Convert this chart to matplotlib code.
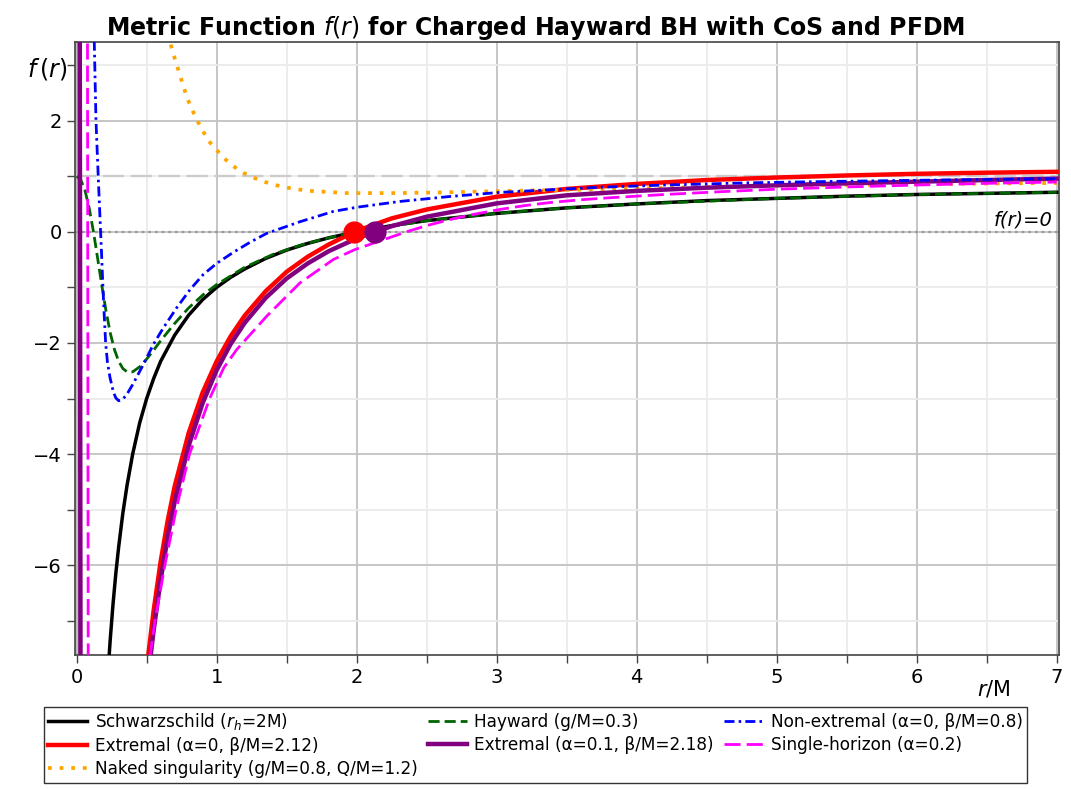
import matplotlib
matplotlib.use('Agg')
import matplotlib.pyplot as plt
from matplotlib.ticker import MultipleLocator, FixedLocator

# ---------------- data ----------------
schw_r = [0.22, 0.23, 0.24, 0.26, 0.28, 0.30, 0.33, 0.36, 0.40, 0.45, 0.50, 0.55, 0.60, 0.70,
          0.80, 0.90, 1.00, 1.10, 1.20, 1.35, 1.50, 1.65, 1.80, 2.00, 2.25, 2.50, 3.00, 3.50,
          4.00, 4.50, 5.00, 5.50, 6.00, 6.50, 7.00]
schw_f = [-8.09, -7.70, -7.33, -6.69, -6.14, -5.67, -5.06, -4.56, -4.00, -3.44, -3.00, -2.64,
          -2.33, -1.86, -1.50, -1.22, -1.00, -0.82, -0.67, -0.48, -0.33, -0.21, -0.11, 0.00,
          0.11, 0.20, 0.33, 0.43, 0.50, 0.56, 0.60, 0.64, 0.67, 0.69, 0.71]

hay_r = [0.00, 0.03, 0.06, 0.09, 0.12, 0.15, 0.18, 0.21, 0.24, 0.27, 0.30, 0.33, 0.36, 0.40,
         0.45, 0.50, 0.55, 0.60, 0.70, 0.80, 0.90, 1.00, 1.20, 1.40, 1.60, 1.80, 2.00, 2.50,
         3.00, 3.50, 4.00, 5.00, 6.00, 7.00]
hay_f = [1.00, 0.93, 0.74, 0.42, 0.00, -0.48, -0.97, -1.43, -1.82, -2.12, -2.33, -2.46, -2.52,
         -2.52, -2.43, -2.29, -2.13, -1.96, -1.65, -1.37, -1.14, -0.95, -0.64, -0.41, -0.24,
         -0.11, 0.00, 0.20, 0.33, 0.43, 0.50, 0.60, 0.67, 0.71]

nonext_r = [0.100, 0.115, 0.126, 0.138, 0.154, 0.171, 0.178, 0.186, 0.196, 0.207, 0.220, 0.238,
            0.262, 0.280, 0.300, 0.325, 0.355, 0.400, 0.476, 0.547, 0.619, 0.714, 0.810, 0.904,
            1.000, 1.119, 1.238, 1.357, 1.476, 1.595, 1.833, 2.000, 2.310, 2.670, 3.020, 3.380,
            3.740, 4.200, 4.800, 5.400, 6.000, 6.500, 7.000]
nonext_f = [9.0, 5.0, 3.4, 2.0, 1.0, 0.0, -0.4, -0.9, -1.45, -2.0, -2.35, -2.62, -2.88, -2.99,
            -3.04, -3.02, -2.94, -2.75, -2.39, -2.03, -1.73, -1.37, -1.04, -0.77, -0.57, -0.37,
            -0.19, -0.03, 0.075, 0.18, 0.365, 0.44, 0.545, 0.635, 0.707, 0.755, 0.80, 0.84,
            0.88, 0.905, 0.925, 0.94, 0.955]

ext0_r = [0.480, 0.511, 0.550, 0.600, 0.650, 0.700, 0.800, 0.900, 1.000, 1.100, 1.200, 1.350,
          1.500, 1.650, 1.800, 1.984, 2.250, 2.500, 3.000, 3.500, 4.000, 4.500, 5.000, 5.500,
          6.000, 6.500, 7.000]
ext0_f = [-8.40, -7.63, -6.81, -5.93, -5.20, -4.58, -3.62, -2.89, -2.33, -1.88, -1.51, -1.07,
          -0.72, -0.45, -0.23, 0.00, 0.24, 0.40, 0.63, 0.77, 0.86, 0.93, 0.975, 1.012, 1.042,
          1.062, 1.078]

ext1_r = [0.020, 0.024, 0.028, 0.100, 0.300, 0.450, 0.500, 0.530, 0.550, 0.600, 0.650, 0.700,
          0.800, 0.900, 1.000, 1.100, 1.200, 1.350, 1.500, 1.650, 1.800, 2.000, 2.134, 2.250,
          2.500, 3.000, 3.500, 4.000, 4.500, 5.000, 5.500, 6.000, 6.500, 7.000]
ext1_f = [8.0, 0.0, -9.0, -60.0, -22.0, -10.5, -8.28, -7.59, -7.17, -6.26, -5.50, -4.86, -3.85,
          -3.08, -2.49, -2.02, -1.64, -1.19, -0.84, -0.57, -0.35, -0.12, 0.00, 0.10, 0.27, 0.51,
          0.655, 0.735, 0.792, 0.835, 0.87, 0.90, 0.93, 0.955]

single_r = [0.075, 0.079, 0.083, 0.200, 0.400, 0.500, 0.525, 0.559, 0.630, 0.710, 0.806, 0.950,
            1.050, 1.143, 1.357, 1.595, 1.833, 1.988, 2.190, 2.357, 2.500, 2.667, 2.800, 3.020,
            3.200, 3.380, 3.600, 3.800, 4.200, 4.600, 5.000, 5.500, 6.000, 6.500, 7.000]
single_f = [8.0, 0.0, -9.0, -40.0, -13.0, -8.3, -7.62, -7.0, -6.0, -5.0, -4.0, -3.0, -2.45,
            -2.12, -1.52, -0.92, -0.50, -0.32, -0.144, 0.0, 0.11, 0.22, 0.295, 0.40, 0.47,
            0.525, 0.575, 0.61, 0.67, 0.72, 0.765, 0.805, 0.84, 0.87, 0.894]

naked_r = [0.600, 0.666, 0.688, 0.766, 0.790, 0.824, 0.857, 0.900, 0.940, 1.000, 1.054, 1.118,
           1.190, 1.266, 1.345, 1.428, 1.510, 1.595, 1.667, 1.930, 2.260, 2.600, 2.930, 3.260,
           3.620, 3.880, 4.400, 4.930, 5.400, 5.880, 6.400, 7.000]
naked_f = [4.3, 3.42, 3.22, 2.59, 2.40, 2.20, 2.02, 1.82, 1.64, 1.47, 1.32, 1.18, 1.06, 0.97,
           0.895, 0.835, 0.79, 0.757, 0.735, 0.695, 0.695, 0.707, 0.725, 0.743, 0.757, 0.77,
           0.80, 0.827, 0.84, 0.853, 0.865, 0.877]

horizon_r = [1.984, 2.134]
horizon_f = [0.0, 0.0]

labels = ['Schwarzschild ($r_h$=2M)', 'Hayward (g/M=0.3)', 'Non-extremal (α=0, β/M=0.8)',
          'Extremal (α=0, β/M=2.12)', 'Extremal (α=0.1, β/M=2.18)', 'Single-horizon (α=0.2)',
          'Naked singularity (g/M=0.8, Q/M=1.2)']

# ---------------- figure ----------------
fig = plt.figure(figsize=(10.71, 7.89), dpi=100)
ax = fig.add_axes([0.070, 0.170, 0.9185, 0.7773])
ax.set_xlim(-0.012, 7.014)
ax.set_ylim(-7.61, 3.42)

ax.xaxis.set_major_locator(MultipleLocator(1))
ax.xaxis.set_minor_locator(MultipleLocator(0.5))
ax.yaxis.set_major_locator(FixedLocator([-6, -4, -2, 0, 2]))
ax.yaxis.set_minor_locator(FixedLocator([-7, -5, -3, -1, 1, 3]))
ax.grid(which='major', color='#c2c2c2', lw=1.3)
ax.grid(which='minor', color='#ebebeb', lw=1.3)
ax.set_axisbelow(True)
ax.tick_params(which='both', direction='out', length=6, width=1.0, color='#444444',
               labelsize=14)
for s in ax.spines.values():
    s.set_color('#444444')
    s.set_linewidth(1.2)

ax.axvline(0, color='#bdbdbd', lw=3, zorder=1.5)
ax.axhline(1, color='#cccccc', lw=1.7, dashes=(9, 2.8), zorder=1.6)
ax.axhline(0, color='#999999', lw=1.6, dashes=(1.2, 1.8), zorder=1.6)

h_s, = ax.plot(schw_r, schw_f, color='black', lw=2.5, zorder=3)
h_e0, = ax.plot(ext0_r, ext0_f, color='red', lw=3.2, zorder=3)
h_n, = ax.plot(naked_r, naked_f, color='orange', lw=2.7, dashes=(1, 2.1), zorder=3)
h_h, = ax.plot(hay_r, hay_f, color='darkgreen', lw=2.0, dashes=(4.0, 1.8), zorder=3)
h_e1, = ax.plot(ext1_r, ext1_f, color='purple', lw=3.2, zorder=3)
h_ne, = ax.plot(nonext_r, nonext_f, color='blue', lw=2.0, dashes=(3.6, 1.5, 0.9, 1.5), zorder=3)
h_sh, = ax.plot(single_r, single_f, color='magenta', lw=2.0, dashes=(5.8, 2.2), zorder=3)

ax.plot(horizon_r[:1], horizon_f[:1], 'o', color='red', ms=15, zorder=5)
ax.plot(horizon_r[1:], horizon_f[1:], 'o', color='purple', ms=15, zorder=6)

ax.text(6.97, 0.21, 'f(r)=0', style='italic', fontsize=14, ha='right', va='center')
ax.annotate(r'$f\,(r)$', xy=(-0.008, 2.92), xycoords=('axes fraction', 'data'),
            ha='right', va='center', fontsize=17, annotation_clip=False)
ax.annotate(r'$r$/M', xy=(6.55, -0.055), xycoords=('data', 'axes fraction'),
            ha='center', va='center', fontsize=15, annotation_clip=False)

fig.suptitle(r'Metric Function $\mathit{f(r)}$ for Charged Hayward BH with CoS and PFDM',
             x=0.5, y=0.9645, va='center', fontsize=17, fontweight='bold')

handles = [h_s, h_e0, h_n, h_h, h_e1, h_ne, h_sh]
hl = [labels[0], labels[3], labels[6], labels[1], labels[4], labels[2], labels[5]]
leg = fig.legend(handles, hl, loc='upper center', bbox_to_anchor=(0.5, 0.104), ncol=3,
                 fontsize=12.2, frameon=True, fancybox=False, edgecolor='black',
                 handlelength=2.3, columnspacing=0.6, borderpad=0.25, labelspacing=0.3,
                 handletextpad=0.45, borderaxespad=0.0)
leg.get_frame().set_linewidth(1.0)

fig.savefig('out.png', dpi=100)
